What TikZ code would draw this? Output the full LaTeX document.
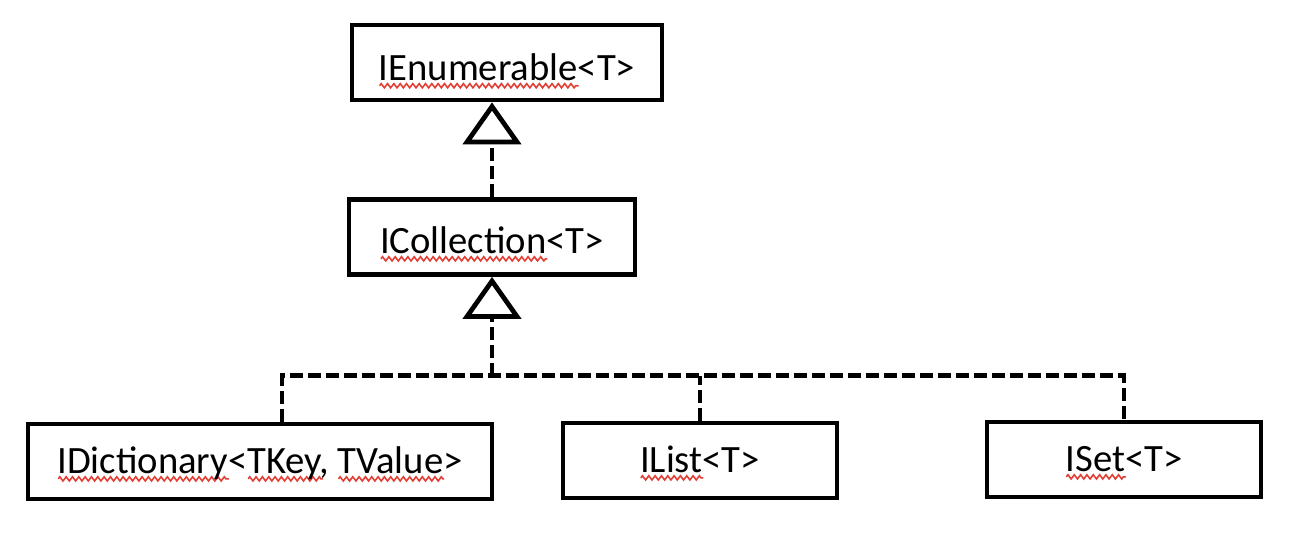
\documentclass[tikz,border=0pt]{standalone}
\usepackage{fontspec}
\setmainfont{Carlito}
\usetikzlibrary{arrows.meta, positioning, calc, decorations.pathmorphing}
\definecolor{spellred}{RGB}{226, 62, 52}
\newlength{\wavelen}
\newcommand{\spellwave}[1]{\settowidth{\wavelen}{#1}\rlap{\tikz[baseline=0pt]\draw[spellred, line width=0.45pt, decorate, decoration={zigzag, segment length=1.8pt, amplitude=0.6pt}] (0,-1.6pt) -- (\wavelen,-1.6pt);}#1}

\begin{document}
\begin{tikzpicture}[
    iface/.style={draw, line width=1.35pt, minimum height=0.75cm, inner sep=0pt,
      font=\fontsize{11}{13}\selectfont, text height=1.9ex, text depth=0.5ex},
    realize/.style={line width=1.35pt, dash pattern=on 0.13cm off 0.05cm},
    hollow/.style={realize, -{Triangle[open, length=0.42cm, width=0.58cm]}}]
  \useasboundingbox (0,0) rectangle (13.1,-5.4);

  % Top interface (IEnumerable<T>)
  \node[iface, minimum width=3.10cm, text height=12.4pt] (enum) at (5.07,-0.625) {\spellwave{IEnumerable}<T>};

  % Middle interface (ICollection<T>)
  \node[iface, minimum width=2.86cm, text height=11.6pt] (coll) at (4.92,-2.37) {\spellwave{ICollection}<T>};

  % Bottom row
  \node[iface, minimum width=4.64cm] (dict) at (2.60,-4.615) {\spellwave{IDictionary}<\spellwave{TKey}, \spellwave{TValue}>};
  \node[iface, minimum width=2.74cm] (list) at (7.00,-4.605) {\spellwave{IList}<T>};
  \node[iface, minimum width=2.74cm] (set) at (11.24,-4.595) {\spellwave{ISet}<T>};

  % Realization links
  \coordinate (fork) at ($(coll.south)+(0,-0.99)$);
  \draw[hollow] (coll.north) -- (coll.north |- enum.south);
  \draw[hollow] (fork) -- (coll.south);
  \draw[realize] ([xshift=0.22cm]dict.north) |- (fork) -| (set.north);
  \draw[realize] (list.north) -- (list.north |- fork);
\end{tikzpicture}
\end{document}
